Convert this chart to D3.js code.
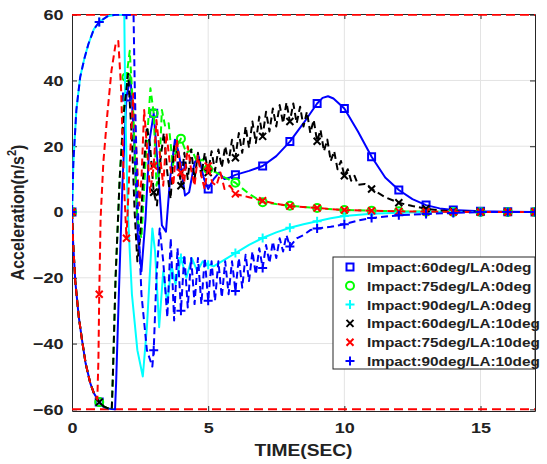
<!DOCTYPE html>
<html>
<head>
<meta charset="utf-8">
<script src="https://cdn.jsdelivr.net/npm/d3@7"></script>
<style>
body { margin: 0; background: #fff; }
text { font-family: "Liberation Sans", Arial, sans-serif; font-weight: bold; fill: #222; }
</style>
</head>
<body>
<svg id="chart"></svg>
<script>
// Tick values and reference limit lines
const xTicks = [0, 5, 10, 15];
const yTicks = [-60, -40, -20, 0, 20, 40, 60];
const limits = [60, -60];

const seriesNames = [
  "Impact:60deg/LA:0deg",
  "Impact:75deg/LA:0deg",
  "Impact:90deg/LA:0deg",
  "Impact:60deg/LA:10deg",
  "Impact:75deg/LA:10deg",
  "Impact:90deg/LA:10deg"
];

// [time, acceleration]
const impact60la0 = [[0,0],[0.04,-9],[0.12,-21],[0.25,-32],[0.37,-39],[0.5,-46],[0.67,-52],[0.8,-55],[1,-57.8],
  [1.15,-59.2],[1.3,-59.7],[1.45,-59.9],[1.58,-60],[1.62,-52],[1.72,-25],[1.85,8],[2,35],[2.15,41],[2.28,22],
  [2.42,-8],[2.55,-18],[2.7,-2],[2.85,22],[3,30],[3.15,14],[3.3,-4],[3.45,-6],[3.6,10],[3.78,22],[3.92,18],
  [4,14],[4.15,5],[4.3,6],[4.5,15],[4.65,17],[4.85,10],[5,7],[5.2,10],[5.4,12],[5.6,10],[5.8,10.5],[6,11.3],
  [6.5,12.5],[7,14],[7.5,17],[8,21.4],[8.5,27],[9,33],[9.2,34.7],[9.4,35.2],[9.6,34.5],[10,31.5],[10.5,24.5],
  [11,16.8],[11.5,10.5],[12,6.7],[12.5,3.9],[13,2.1],[13.5,1.1],[14,0.6],[15,0.2],[16,0.1],[17,0]];

const impact75la0 = [[0,0],[0.04,-9],[0.12,-21],[0.25,-32],[0.37,-39],[0.5,-46],[0.67,-52],[0.8,-55],[1,-57.8],
  [1.15,-59],[1.3,-59.6],[1.46,-60],[1.5,-50],[1.6,-20],[1.75,10],[1.9,32],[2,41],[2.12,49],[2.25,30],[2.4,-2],
  [2.55,-8],[2.7,15],[2.88,37.6],[3,30],[3.1,8],[3.2,12],[3.3,31],[3.42,26],[3.55,27],[3.7,14],[3.85,20],
  [4,22.3],[4.2,18],[4.4,19],[4.6,15],[4.8,16],[5,13],[5.3,12],[5.6,10.5],[6,8.9],[6.5,5.5],[7,3],[7.5,2.4],
  [8,1.9],[9,1.2],[10,0.6],[11,0.4],[12,0.2],[13,0.1],[14,0],[15,0],[16,0],[17,0]];

const impact90la0 = [[0,0],[0.05,15],[0.16,31],[0.3,41],[0.45,46.5],[0.6,51],[0.8,55.5],[1,57.8],[1.3,59.5],
  [1.6,60],[1.92,60],[1.96,30],[2.05,0],[2.2,-25],[2.4,-42],[2.6,-50],[2.75,-35],[2.95,-5],[3.05,-12],[3.2,-35],
  [3.35,-18],[3.5,-28],[3.65,-16],[3.8,-22],[4,-14],[4.2,-20],[4.4,-14],[4.6,-18],[4.8,-15],[5,-16],[5.2,-16.5],
  [5.5,-15],[6,-12.5],[6.5,-10],[7,-7.9],[7.5,-6.2],[8,-4.8],[8.5,-3.7],[9,-2.8],[9.5,-1.9],[10,-1.2],[11,-0.5],
  [12,-0.2],[13,0],[14,0],[15,0],[16,0],[17,0]];

const impact60la10 = [[0,0],[0.04,-9],[0.12,-21],[0.25,-32],[0.37,-39],[0.5,-46],[0.67,-52],[0.8,-55],[1,-57.8],
  [1.15,-59],[1.3,-59.6],[1.46,-60],[1.5,-50],[1.6,-20],[1.75,10],[1.9,30],[2.06,42],[2.2,22],[2.3,0],[2.4,-15],
  [2.5,-8],[2.62,12],[2.75,26],[2.87,20],[3,6],[3.12,2],[3.25,16],[3.37,24],[3.5,12],[3.62,4],[3.75,20],[3.87,18],
  [4,8],[4.125,18],[4.25,10],[4.375,19],[4.5,10],[4.625,18],[4.75,11],[4.875,18],[5,12],[5.125,18.5],[5.25,12.5],
  [5.375,19],[5.5,13.5],[5.625,20],[5.75,15],[5.875,22],[6,16.5],[6.125,24],[6.25,18],[6.375,26],[6.5,19.5],
  [6.625,27.5],[6.75,21],[6.875,29],[7,23],[7.125,30.5],[7.25,24.5],[7.375,31.5],[7.5,26],[7.625,32.5],[7.75,27],
  [7.875,33.3],[8,27.5],[8.125,33],[8.25,27],[8.375,32],[8.5,26],[8.625,30.5],[8.75,24],[8.875,28],[9,21.5],
  [9.125,25],[9.25,18.5],[9.375,22],[9.5,15.5],[9.625,18.5],[9.75,13],[9.875,15.5],[10,11],[10.125,13],
  [10.25,9.5],[10.375,11],[10.5,8.3],[10.75,8.5],[11,7],[11.5,4.5],[12,2.8],[12.5,1.8],[13,1],[13.5,0.5],
  [14,0.2],[15,0],[16,0],[17,0]];

const impact75la10 = [[0,0],[0.04,-9],[0.12,-21],[0.25,-32],[0.37,-39],[0.5,-46],[0.67,-52],[0.8,-55],[0.93,-57],
  [0.97,-45],[1,-25],[1.05,-2],[1.15,15],[1.3,30],[1.45,43],[1.6,51],[1.7,52],[1.8,38],[1.9,10],[2,-8],[2.12,15],
  [2.25,36],[2.37,18],[2.47,2],[2.55,10],[2.65,31],[2.75,20],[2.87,6],[3,14],[3.1,28],[3.22,18],[3.35,8],
  [3.47,24],[3.6,14],[3.72,8],[3.85,22],[4,12],[4.12,9],[4.25,20],[4.37,13],[4.5,8],[4.62,17],[4.75,11],
  [4.87,7],[5,14],[5.15,9],[5.3,8],[5.45,12],[5.6,7],[5.8,8],[6,5.5],[6.5,4.5],[7,3.4],[7.5,2.5],[8,1.8],
  [9,1.2],[10,0.6],[11,0.4],[12,0.2],[13,0.1],[14,0],[15,0],[16,0],[17,0]];

const impact90la10 = [[0,0],[0.05,15],[0.16,31],[0.3,41],[0.45,46.5],[0.6,51],[0.8,55.5],[1,57.8],[1.3,59.5],
  [1.6,60],[2,60],[2.26,60],[2.3,40],[2.4,5],[2.55,-25],[2.75,-42],[2.95,-47],[3,-42],[3.1,-20],[3.22,-5],
  [3.35,-15],[3.5,-32],[3.625,-8],[3.75,-33],[3.875,-11],[4,-30],[4.125,-13],[4.25,-29],[4.375,-14],[4.5,-28],
  [4.625,-14],[4.75,-28],[4.875,-14],[5,-27],[5.125,-15],[5.25,-27],[5.375,-15],[5.5,-26],[5.625,-15],
  [5.75,-25],[5.875,-15],[6,-24],[6.125,-14],[6.25,-23],[6.375,-13],[6.5,-21],[6.625,-12],[6.75,-19],
  [6.875,-11],[7,-17],[7.125,-10],[7.25,-15.5],[7.375,-9],[7.5,-14],[7.625,-8],[7.75,-12],[7.875,-7],[8,-10.5],
  [8.25,-8],[8.5,-7],[8.75,-5.5],[9,-5],[9.5,-4.5],[10,-3.7],[10.5,-2.6],[11,-1.8],[12,-1],[13,-0.6],[14,-0.3],
  [15,0],[16,0],[17,0]];

const seriesData = [impact60la0, impact75la0, impact90la0, impact60la10, impact75la10, impact90la10];
const seriesColors = ["#0000ff", "#00ff00", "#00ffff", "#000000", "#ff0000", "#0000ff"];
const seriesDash = [null, "7,4", null, "7,4", "7,4", "7,4"];
const seriesMarker = ["square", "circle", "plus", "cross", "cross", "plus"];

// Set up dimensions
const margin = {top: 14, right: 12, bottom: 53, left: 72},
  width = 547 - margin.left - margin.right,
  height = 464 - margin.top - margin.bottom;
const sx = 1.2; // text in the original looks horizontally stretched

const svg = d3.select("#chart")
  .attr("width", 547)
  .attr("height", 464)
  .append("g")
  .attr("transform", `translate(${margin.left},${margin.top})`);

const x = d3.scaleLinear().domain([0, 17]).range([0, width]);
const y = d3.scaleLinear().domain([-60.5, 60.2]).range([height, 0]);

svg.append("clipPath").attr("id", "clip")
  .append("rect").attr("width", width).attr("height", height);

// Grid
svg.append("g").selectAll("line").data(xTicks.filter(d => d > 0)).join("line")
  .attr("x1", d => x(d)).attr("x2", d => x(d)).attr("y1", 0).attr("y2", height)
  .attr("stroke", "#e3e3e3").attr("stroke-width", 1);
svg.append("g").selectAll("line").data(yTicks.filter(d => d > -60 && d < 60)).join("line")
  .attr("y1", d => y(d)).attr("y2", d => y(d)).attr("x1", 0).attr("x2", width)
  .attr("stroke", "#e3e3e3").attr("stroke-width", 1);

// Axes (box with inward ticks)
const axisColor = "#262626";
function styleAxis(g) {
  g.select(".domain").attr("stroke", axisColor);
  g.selectAll(".tick line").attr("stroke", axisColor);
  g.selectAll("text").attr("font-size", 15).attr("fill", "#222")
    .attr("font-family", "Liberation Sans, Arial, sans-serif").attr("font-weight", "bold");
}
svg.append("g").attr("transform", `translate(0,${height})`)
  .call(d3.axisBottom(x).tickValues(xTicks).tickSizeInner(-5).tickSizeOuter(0).tickPadding(11))
  .call(styleAxis)
  .selectAll("text").attr("transform", `scale(${sx},1)`);
svg.append("g")
  .call(d3.axisLeft(y).tickValues(yTicks).tickSizeInner(-5).tickSizeOuter(0).tickPadding(7))
  .call(styleAxis)
  .selectAll("text").attr("transform", `scale(${sx},1)`);
svg.append("g")
  .call(d3.axisTop(x).tickValues(xTicks).tickSizeInner(-5).tickSizeOuter(0).tickFormat(""))
  .call(styleAxis);
svg.append("g").attr("transform", `translate(${width},0)`)
  .call(d3.axisRight(y).tickValues(yTicks).tickSizeInner(-5).tickSizeOuter(0).tickFormat(""))
  .call(styleAxis);

// Limit lines
const plot = svg.append("g").attr("clip-path", "url(#clip)");
plot.selectAll(".limit").data(limits).join("line")
  .attr("class", "limit")
  .attr("x1", 0).attr("x2", width)
  .attr("y1", d => y(d)).attr("y2", d => y(d))
  .attr("stroke", "#ff0000").attr("stroke-width", 2).attr("stroke-dasharray", "9,5");

// Marker shapes
function markerPath(type) {
  if (type === "square") return "M-3.5,-3.5H3.5V3.5H-3.5Z";
  if (type === "circle") return "M4,0A4,4 0 1,1 -4,0A4,4 0 1,1 4,0Z";
  if (type === "plus") return "M-4.5,0H4.5M0,-4.5V4.5";
  return "M-3.5,-3.5L3.5,3.5M-3.5,3.5L3.5,-3.5";
}

const line = d3.line().x(d => x(d[0])).y(d => y(d[1]));

seriesData.forEach((data, i) => {
  plot.append("path")
    .datum(data)
    .attr("d", line)
    .attr("fill", "none")
    .attr("stroke", seriesColors[i])
    .attr("stroke-width", 2)
    .attr("stroke-linejoin", "round")
    .attr("stroke-dasharray", seriesDash[i]);
  plot.selectAll(".m" + i)
    .data(data.filter(d => Number.isInteger(d[0])))
    .join("path")
    .attr("class", "m" + i)
    .attr("transform", d => `translate(${x(d[0])},${y(d[1])})`)
    .attr("d", markerPath(seriesMarker[i]))
    .attr("fill", "none")
    .attr("stroke", seriesColors[i])
    .attr("stroke-width", 2);
});

// Axis labels
svg.append("text")
  .attr("transform", `translate(${width / 2},${height + 45}) scale(${sx},1)`)
  .attr("text-anchor", "middle")
  .attr("font-size", 16)
  .text("TIME(SEC)");

const yl = svg.append("text")
  .attr("transform", `translate(${-48},${height / 2}) scale(${sx},1) rotate(-90)`)
  .attr("text-anchor", "middle")
  .attr("font-size", 16);
yl.append("tspan").text("Acceleration(n/s");
yl.append("tspan").attr("baseline-shift", "super").attr("font-size", 11).text("2");
yl.append("tspan").text(")");

// Legend
const legend = svg.append("g").attr("transform", `translate(${width - 202},${243})`);
legend.append("rect")
  .attr("width", 202).attr("height", 112)
  .attr("fill", "#fff").attr("stroke", axisColor).attr("stroke-width", 1);
seriesNames.forEach((name, i) => {
  const yy = 10 + i * 18.8;
  legend.append("path")
    .attr("transform", `translate(17,${yy})`)
    .attr("d", markerPath(seriesMarker[i]))
    .attr("fill", "none")
    .attr("stroke", seriesColors[i])
    .attr("stroke-width", 2);
  legend.append("text")
    .attr("transform", `translate(34,${yy + 5}) scale(1.18,1)`)
    .attr("font-size", 13)
    .text(name);
});
</script>
</body>
</html>
